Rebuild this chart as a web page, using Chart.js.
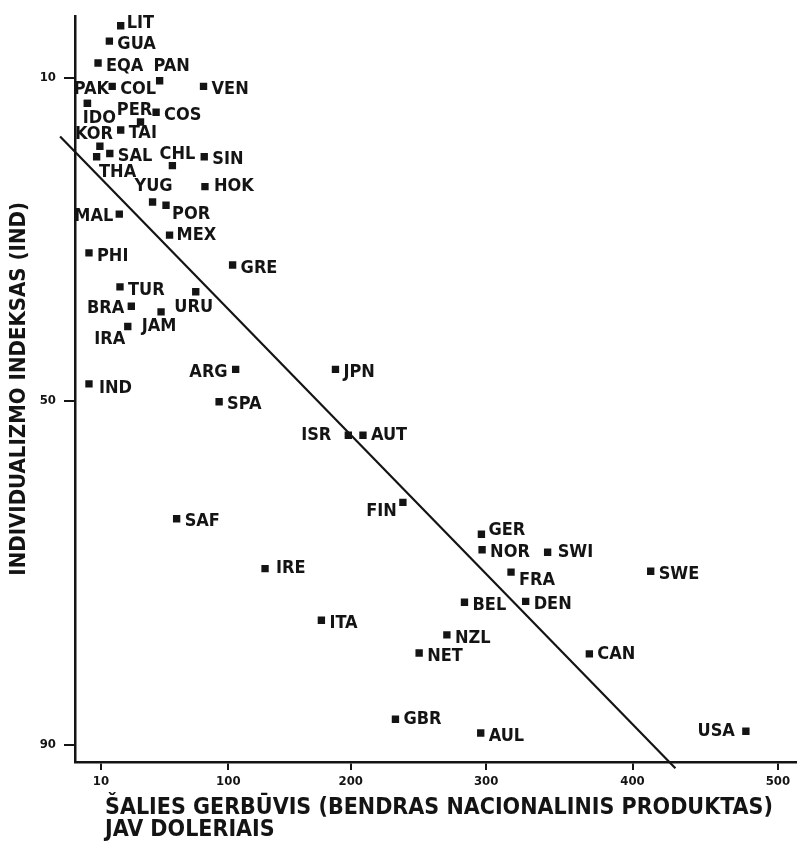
<!DOCTYPE html>
<html>
<head>
<meta charset="utf-8">
<script src="https://cdn.jsdelivr.net/npm/chart.js@4/dist/chart.umd.min.js"></script>
<style>
  html, body { margin: 0; padding: 0; background: #fff; }
  canvas { display: block; }
</style>
</head>
<body>
<canvas id="chart" width="801" height="848"></canvas>
<script>
// country codes, GNP per capita (x) and individualism index (y)
var countries = ['LIT','GUA','EQA','PAN','COL','PAK','IDO','KOR','THA','SAL','TAI','PER','COS','VEN',
    'CHL','SIN','YUG','HOK','POR','MAL','MEX','PHI','GRE','TUR','URU','BRA','JAM','IRA','ARG','IND',
    'SPA','JPN','ISR','AUT','FIN','GER','NOR','SWI','SWE','FRA','BEL','DEN','NZL','NET','CAN','SAF',
    'IRE','ITA','GBR','AUL','USA'];
var gnp = [24, 16, 8, 51.5, 18, 0.5, 0.5, 9.3, 7, 16.3, 24, 38, 49, 82.5,
    60.5, 83, 46.5, 83.5, 56, 23, 58.5, 1.6, 103.5, 23.5, 77, 31.5, 52.5, 29, 106, 1.6,
    93.5, 187.5, 198, 209, 238.5, 296.5, 297, 342, 412.5, 317, 284, 327, 271, 250.5, 370.5, 63.5,
    130, 176, 233, 296, 478];
var individualism = [3.6, 5.5, 8.2, 10.4, 11.1, 13.2, 13.2, 18.5, 19.8, 19.4, 16.5, 15.5, 14.3, 11.1,
    20.9, 19.8, 25.4, 23.5, 25.8, 26.9, 29.5, 31.7, 33.2, 35.9, 36.5, 38.3, 39, 40.8, 46.1, 47.9,
    50.1, 46.1, 54, 54, 61.8, 65.5, 67.3, 67.6, 69.8, 69.9, 73.4, 73.3, 77.2, 79.3, 79.4, 63.7,
    69.5, 75.5, 87, 88.6, 88.4];
var trendGnp = [-18.8, 429.5];
var trendInd = [17.3, 92.7];
var xTicks = [10, 100, 200, 300, 400, 500];
var yTicks = [10, 50, 90];
var xTitle = ['ŠALIES GERBŪVIS (BENDRAS NACIONALINIS PRODUKTAS)', 'JAV DOLERIAIS'];
var yTitle = 'INDIVIDUALIZMO INDEKSAS (IND)';

// the printed axes are not evenly spaced: value -> share of the axis length
var axisBreaks = {
    x: [[10, 0.0359], [100, 0.2127], [200, 0.3826], [300, 0.5704], [400, 0.7735], [500, 0.9751]],
    y: [[10, 0.0827], [50, 0.516], [90, 0.9773]]
};

class PiecewiseScale extends Chart.LinearScale {
    getPixelForValue(value) {
        var a = axisBreaks[this.id], i = 1;
        while (i < a.length - 1 && value > a[i][0]) i++;
        var p = a[i - 1], q = a[i];
        var f = p[1] + (value - p[0]) * (q[1] - p[1]) / (q[0] - p[0]);
        return this.isHorizontal() ? this.left + f * this.width : this.top + f * this.height;
    }
    getValueForPixel(pixel) {
        var a = axisBreaks[this.id], i = 1;
        var f = this.isHorizontal() ? (pixel - this.left) / this.width : (pixel - this.top) / this.height;
        while (i < a.length - 1 && f > a[i][1]) i++;
        var p = a[i - 1], q = a[i];
        return p[0] + (f - p[1]) * (q[0] - p[0]) / (q[1] - p[1]);
    }
}
PiecewiseScale.id = 'piecewise';
PiecewiseScale.defaults = Chart.LinearScale.defaults;
Chart.register(PiecewiseScale);

var FONT = '"Liberation Sans Narrow", "DejaVu Sans Condensed", "Liberation Sans", Arial, sans-serif';
var INK = '#141414';

// where each label sits next to its marker: [textAlign, dx, dy]
var labelPlace = {
    PAN: ['center', 12, -14], PAK: ['center', 4, -14], IDO: ['center', 12, 15], KOR: ['center', -6, -12],
    THA: ['center', 21, 16], PER: ['center', -6, -12], CHL: ['center', 5, -11], YUG: ['center', 1, -16],
    URU: ['center', -2, 16], JAM: ['center', -2, 14], IRA: ['center', -18, 13],
    MAL: ['right', -6, 2], BRA: ['right', -7, 2], ARG: ['right', -8, 3], ISR: ['right', -17, 0],
    FIN: ['right', -6, 9], USA: ['right', -11, 0],
    POR: ['left', 6, 9], FRA: ['left', 8, 8], GER: ['left', 7, -4], HOK: ['left', 9, 0],
    MEX: ['left', 7, 0], AUT: ['left', 8, 0], SWI: ['left', 10, 0], CAN: ['left', 8, 0],
    IRE: ['left', 11, 0], GBR: ['left', 8, 0], LIT: ['left', 6, -2], IND: ['left', 10, 4]
};

var pointLabels = {
    id: 'pointLabels',
    afterDatasetsDraw: function (chart) {
        var ctx = chart.ctx;
        var meta = chart.getDatasetMeta(0);
        ctx.save();
        ctx.fillStyle = INK;
        ctx.font = 'bold 18px ' + FONT;
        ctx.textBaseline = 'middle';
        meta.data.forEach(function (pt, i) {
            var p = labelPlace[countries[i]] || ['left', 8, 3];
            ctx.textAlign = p[0];
            ctx.fillText(countries[i], pt.x + p[1], pt.y + p[2]);
        });
        ctx.restore();
    }
};

var xAxisTitle = {
    id: 'xAxisTitle',
    afterDraw: function (chart) {
        var ctx = chart.ctx;
        ctx.save();
        ctx.fillStyle = INK;
        ctx.font = 'bold 23px ' + FONT;
        ctx.textAlign = 'left';
        ctx.textBaseline = 'alphabetic';
        ctx.fillText(xTitle[0], 105, 814);
        ctx.fillText(xTitle[1], 105, 836);
        ctx.restore();
    }
};

new Chart(document.getElementById('chart').getContext('2d'), {
    type: 'scatter',
    data: {
        datasets: [{
            data: countries.map(function (c, i) { return { x: gnp[i], y: individualism[i] }; }),
            pointStyle: 'rect',
            pointRadius: 5.2,
            backgroundColor: INK,
            borderWidth: 0
        }, {
            data: trendGnp.map(function (x, i) { return { x: x, y: trendInd[i] }; }),
            showLine: true,
            borderColor: INK,
            borderWidth: 2.2,
            pointRadius: 0,
            clip: false
        }]
    },
    options: {
        responsive: false,
        animation: false,
        events: [],
        layout: { padding: { top: 12, right: 2, left: 0, bottom: 0 } },
        plugins: { legend: { display: false }, tooltip: { enabled: false } },
        scales: {
            x: {
                type: 'piecewise',
                min: -20,
                max: 512,
                afterBuildTicks: function (s) { s.ticks = xTicks.map(function (v) { return { value: v }; }); },
                afterFit: function (s) { s.height = 86; },
                ticks: { autoSkip: false, maxRotation: 0, padding: 4, color: INK,
                    font: { family: FONT, size: 13, weight: 'bold' },
                    callback: function (v) { return String(v); } },
                grid: { drawOnChartArea: false, tickLength: 8, color: INK, lineWidth: 2 },
                border: { color: INK, width: 2.5 }
            },
            y: {
                type: 'piecewise',
                min: 2,
                max: 92,
                afterBuildTicks: function (s) { s.ticks = yTicks.map(function (v) { return { value: v }; }); },
                afterFit: function (s) { s.width = 75; },
                ticks: { autoSkip: false, padding: 8, color: INK,
                    font: { family: FONT, size: 13, weight: 'bold' },
                    callback: function (v) { return String(v); } },
                grid: { drawOnChartArea: false, tickLength: 11, color: INK, lineWidth: 2 },
                border: { color: INK, width: 2.5 },
                title: { display: true, text: yTitle, color: INK, padding: { top: 6, bottom: 0 },
                    font: { family: FONT, size: 22, weight: 'bold' } }
            }
        }
    },
    plugins: [pointLabels, xAxisTitle]
});
</script>
</body>
</html>
